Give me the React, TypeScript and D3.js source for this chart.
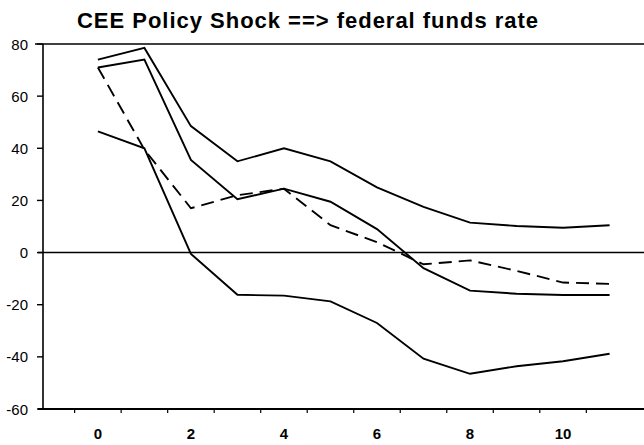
import * as d3 from "d3";
import React from "react";

// impulse response, horizon 0..11
const steps = [0, 1, 2, 3, 4, 5, 6, 7, 8, 9, 10, 11];
const upperBand = [74, 78.5, 48.5, 35, 40, 35, 25, 17.5, 11.5, 10.2, 9.5, 10.5];
const pointEstimate = [71, 74, 35.5, 20.5, 24.5, 19.5, 9, -6, -14.6, -15.8, -16.3, -16.3];
const lowerBand = [46.5, 40, -0.5, -16.2, -16.5, -18.7, -27, -40.7, -46.5, -43.6, -41.7, -38.8];
const altEstimate = [71, 39.5, 17, 22, 24.5, 10.5, 4, -4.5, -3, -7, -11.5, -12];

const yTicks = [80, 60, 40, 20, 0, -20, -40, -60];
const xLabels = [0, 2, 4, 6, 8, 10];
const xMinorTicks = [-0.5, 0.5, 1.5, 2.5, 3.5, 4.5, 5.5, 6.5, 7.5, 8.5, 9.5, 10.5];

const title = "CEE Policy Shock ==> federal funds rate";

export default function App() {
  let svgWidth = 644;
  let svgHeight = 445;
  let left = 43;
  let right = 644;
  let top = 44;
  let bottom = 409;

  let x = d3.scaleLinear().domain([-1.18, 11.74]).range([left, right]);
  let y = d3.scaleLinear().domain([-60, 80]).range([bottom, top]);

  const line = d3
    .line<number>()
    .x((d, i) => x(steps[i]))
    .y((d) => y(d));

  const font = "'Liberation Sans', Arial, sans-serif";

  return (
    <svg
      width={svgWidth}
      height={svgHeight}
      style={{ position: "absolute", left: 0, top: 0, background: "#fff" }}
    >
      <text
        x={77}
        y={28}
        fontFamily={font}
        fontWeight="bold"
        fontSize={22}
        textLength={461}
        lengthAdjust="spacing"
        fill="#000"
      >
        {title}
      </text>

      {/* frame */}
      <line x1={left - 8} x2={right} y1={top} y2={top} stroke="#000" strokeWidth={1.6} />
      <line x1={left} x2={left} y1={top} y2={bottom} stroke="#000" strokeWidth={1.6} />
      <line x1={left - 5} x2={right} y1={bottom} y2={bottom} stroke="#000" strokeWidth={1.8} />
      <line x1={left - 5} x2={right} y1={y(0)} y2={y(0)} stroke="#000" strokeWidth={1.6} />

      {yTicks.map((t) => (
        <g key={"y" + t}>
          <line x1={left - 6} x2={left} y1={y(t)} y2={y(t)} stroke="#000" strokeWidth={1.4} />
          <text
            x={28}
            y={y(t) + 5.5}
            textAnchor="end"
            fontFamily={font}
            fontSize={15}
            fill="#000"
          >
            {t}
          </text>
        </g>
      ))}

      {xMinorTicks.map((t) => (
        <line key={"m" + t} x1={x(t)} x2={x(t)} y1={bottom} y2={bottom + 4} stroke="#000" strokeWidth={1.2} />
      ))}
      {xLabels.map((t) => (
        <text
          key={"x" + t}
          x={x(t)}
          y={438.5}
          textAnchor="middle"
          fontFamily={font}
          fontWeight="bold"
          fontSize={15}
          fill="#000"
        >
          {t}
        </text>
      ))}

      <path d={line(upperBand) || ""} fill="none" stroke="#000" strokeWidth={1.9} />
      <path d={line(pointEstimate) || ""} fill="none" stroke="#000" strokeWidth={1.9} />
      <path d={line(lowerBand) || ""} fill="none" stroke="#000" strokeWidth={1.9} />
      <path
        d={line(altEstimate) || ""}
        fill="none"
        stroke="#000"
        strokeWidth={1.9}
        strokeDasharray="13,7"
      />
    </svg>
  );
}
